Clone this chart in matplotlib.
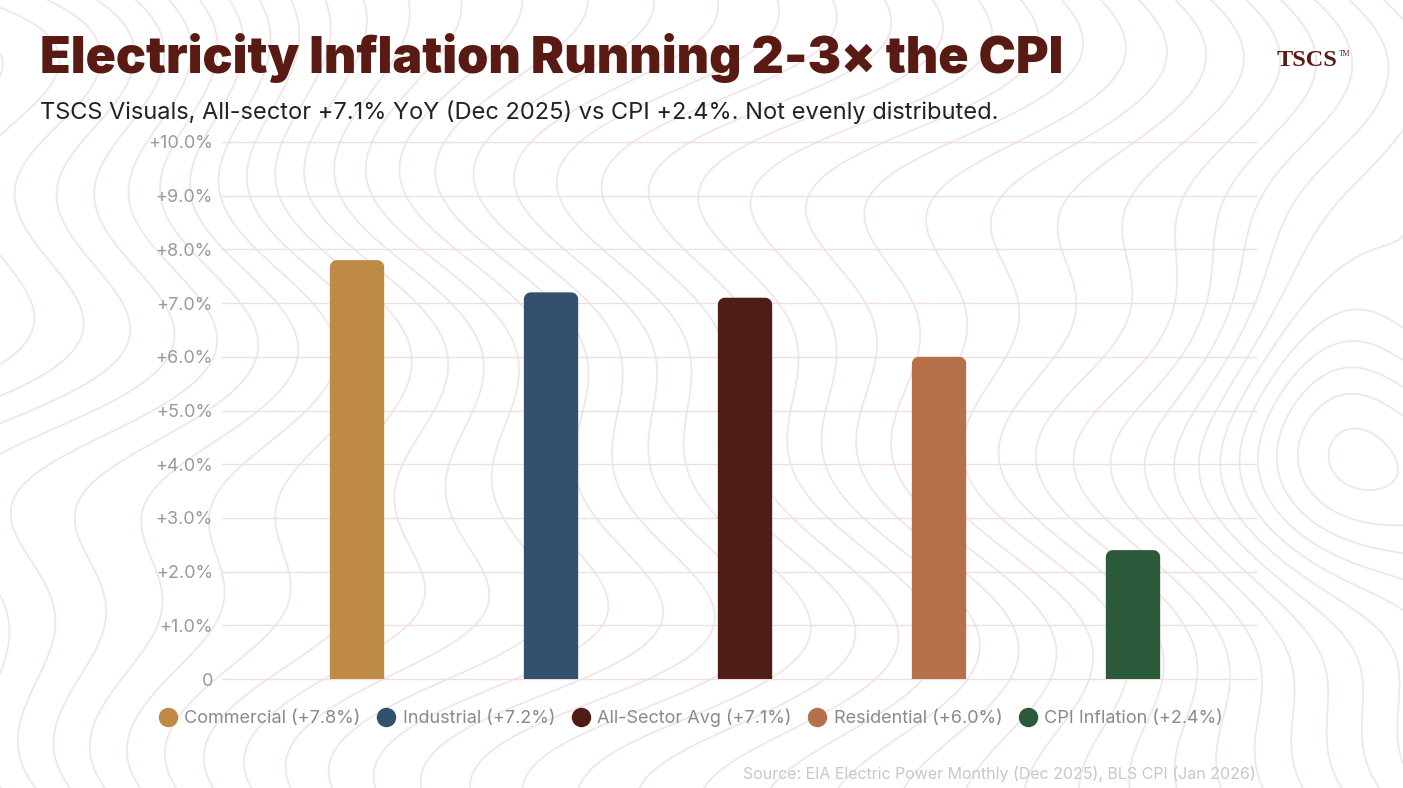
import numpy as np
import matplotlib
matplotlib.use("Agg")
import matplotlib.pyplot as plt
from matplotlib.patches import Polygon
from matplotlib.lines import Line2D

# data
sectors = ["Commercial", "Industrial", "All-Sector Avg", "Residential", "CPI Inflation"]
yoy_pct = [7.8, 7.2, 7.1, 6.0, 2.4]
bar_colors = ["#bf8a45", "#33506f", "#4f1c17", "#b6704a", "#2b5a3a"]
y_ticks = [0, 1, 2, 3, 4, 5, 6, 7, 8, 9, 10]
y_tick_labels = ["0"] + ["+%.1f%%" % t for t in y_ticks[1:]]

title = "Electricity Inflation Running 2-3\u00d7 the CPI"
subtitle = "TSCS Visuals, All-sector +7.1% YoY (Dec 2025) vs CPI +2.4%. Not evenly distributed."
source = "Source: EIA Electric Power Monthly (Dec 2025), BLS CPI (Jan 2026)"

W, H = 1403, 788
fig = plt.figure(figsize=(W / 100, H / 100), dpi=100)
fig.patch.set_facecolor("white")

# faint topographic background (decoration only)
bg = fig.add_axes([0, 0, 1, 1], zorder=0)
gx, gy = np.meshgrid(np.linspace(0, 14, 400), np.linspace(0, 8, 240))
field = (gx * 1.1 + 0.9 * np.sin(gy * 0.9 + 0.4 * gx) + 0.5 * np.sin(gy * 2.1 + 1.3)
         + 2.5 * np.exp(-((gx - 13.3) ** 2 / 1.2 + (gy - 4.0) ** 2 / 3.0))
         - 1.8 * np.exp(-((gx - 1.0) ** 2 / 4 + (gy - 7.5) ** 2 / 2)))
bg.contour(gx, gy, field, levels=40, colors="#f0e6ea", linewidths=1.3,
           linestyles="solid")
bg.set_xlim(0, 14)
bg.set_ylim(0, 8)
bg.axis("off")

ax_l, ax_r, ax_b, ax_t = 222, 1256, 679, 142
ax = fig.add_axes([ax_l / W, 1 - ax_b / H, (ax_r - ax_l) / W, (ax_b - ax_t) / H], zorder=1)
ax.patch.set_alpha(0)
x = np.arange(len(sectors))
bw = 0.28
xlo, xhi = -0.696, 4.634
ax.set_xlim(xlo, xhi)
ax.set_ylim(0, 10)

for t in y_ticks:
    ax.axhline(t, color="#f1dfe0", lw=1.0, zorder=1, clip_on=False)

# bars with rounded top corners (radius in pixels converted to data units)
px_x = (ax_r - ax_l) / (xhi - xlo)
px_y = (ax_b - ax_t) / 10.0
rx, ry = 7 / px_x, 7 / px_y
th = np.linspace(0, np.pi / 2, 12)
for xi, v, c in zip(x, yoy_pct, bar_colors):
    x0, x1 = xi - bw / 2, xi + bw / 2
    left_arc = np.column_stack([x0 + rx - rx * np.cos(th), v - ry + ry * np.sin(th)])
    right_arc = np.column_stack([x1 - rx + rx * np.sin(th), v - ry + ry * np.cos(th)])
    pts = np.vstack([[x0, 0], left_arc, right_arc, [x1, 0]])
    ax.add_patch(Polygon(pts, closed=True, fc=c, ec="none", zorder=3))

ax.set_yticks(y_ticks)
ax.set_yticklabels(y_tick_labels, fontfamily="Inter", fontsize=13, color="#9a9a9a")
ax.set_xticks([])
ax.tick_params(axis="y", length=0, pad=6.5)
for s in ax.spines.values():
    s.set_visible(False)

fig.text(40 / W, 1 - 73 / H, title, fontfamily="Inter", fontweight="black",
         fontsize=36, color="#5a1a14", va="baseline", ha="left")
fig.text(40 / W, 1 - 119 / H, subtitle, fontfamily="Inter", fontsize=17,
         color="#222222", va="baseline", ha="left")
fig.text(1277 / W, 1 - 61 / H, "TSCS", fontfamily="Liberation Serif", fontweight="bold",
         fontsize=17.5, color="#5a1a14", va="center", ha="left")
fig.text(1339 / W, 1 - 54 / H, "TM", fontfamily="Liberation Serif",
         fontsize=5.5, color="#5a1a14", va="center", ha="left")
fig.text(1256 / W, 1 - 779 / H, source, fontfamily="Inter", fontsize=11.5,
         color="#c8c8c8", va="baseline", ha="right")

handles = [Line2D([], [], marker="o", ls="none", markersize=14, mfc=c, mec="none")
           for c in bar_colors]
labels = ["%s (+%.1f%%)" % (s, v) for s, v in zip(sectors, yoy_pct)]
leg = fig.legend(handles, labels, loc="center", bbox_to_anchor=(691 / W, 1 - 718 / H),
                 ncol=5, frameon=False, handlelength=1.0, handletextpad=0.4,
                 columnspacing=0.93, prop={"family": "Inter", "size": 13})
for t in leg.get_texts():
    t.set_color("#8a8a8a")

fig.savefig("out.png", dpi=100, facecolor="white")
